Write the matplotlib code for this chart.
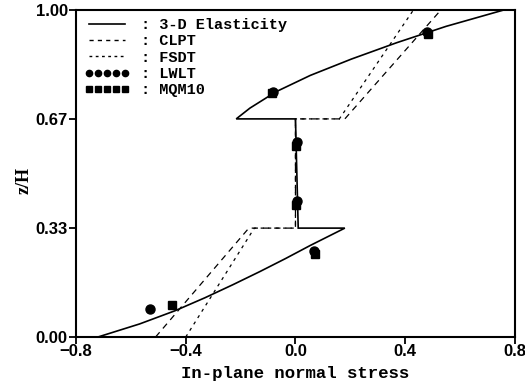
import matplotlib
matplotlib.use("Agg")
import matplotlib.pyplot as plt
from matplotlib.lines import Line2D

# ---- data ----
elas_x = [-0.72, -0.568, -0.44, -0.33, -0.228, -0.13, -0.036, 0.054, 0.18,
          0.01, 0.0, -0.216, -0.166, -0.071, 0.054, 0.204, 0.369, 0.549, 0.759]
elas_z = [0.0, 0.04, 0.08, 0.12, 0.16, 0.20, 0.24, 0.28, 0.333,
          0.333, 0.667, 0.667, 0.70, 0.75, 0.80, 0.85, 0.90, 0.95, 1.0]

clpt_x = [-0.51, -0.17, 0.0, 0.0, 0.18, 0.53]
clpt_z = [0.0, 0.333, 0.333, 0.667, 0.667, 1.0]

fsdt_x = [-0.40, -0.15, 0.0, 0.0, 0.16, 0.43]
fsdt_z = [0.0, 0.333, 0.333, 0.667, 0.667, 1.0]

lwlt_x = [-0.53, 0.068, 0.005, 0.005, -0.082, 0.478]
lwlt_z = [0.085, 0.262, 0.415, 0.595, 0.750, 0.933]

mqm_x = [-0.45, 0.072, 0.002, 0.002, -0.086, 0.482]
mqm_z = [0.098, 0.255, 0.405, 0.585, 0.745, 0.928]

series_labels = [": 3-D Elasticity", ": CLPT", ": FSDT", ": LWLT", ": MQM10"]
xticks = [-0.8, -0.4, 0.0, 0.4, 0.8]
xticklabels = ["\u22120.8", "\u22120.4", "0.0", "0.4", "0.8"]
yticks = [0.0, 0.333, 0.667, 1.0]
yticklabels = ["0.00", "0.33", "0.67", "1.00"]
xlabel = "In-plane normal stress"
ylabel = "z/H"

fig = plt.figure(figsize=(5.25, 3.82), dpi=100)
ax = fig.add_axes([0.1448, 0.1178, 0.836, 0.856])

ax.plot(elas_x, elas_z, color="black", lw=1.2, solid_joinstyle="miter")
ax.plot(clpt_x, clpt_z, color="black", lw=0.9, dashes=(5, 4))
ax.plot(fsdt_x, fsdt_z, color="black", lw=0.9, dashes=(2.5, 3.5))
ax.plot(lwlt_x, lwlt_z, ls="none", marker="o", ms=6.5, color="black")
ax.plot(mqm_x, mqm_z, ls="none", marker="s", ms=5.5, color="black")

ax.set_xlim(-0.8, 0.8)
ax.set_ylim(0.0, 1.0)
ax.set_xticks(xticks)
ax.set_xticklabels(xticklabels, family="Liberation Sans", fontweight="bold", fontsize=12)
ax.set_yticks(yticks)
ax.set_yticklabels(yticklabels, family="Liberation Sans", fontweight="bold", fontsize=12)
ax.tick_params(direction="out", length=5, width=1.3, pad=1)
ax.tick_params(axis="x", pad=0)
for s in ax.spines.values():
    s.set_linewidth(1.5)

ax.set_xlabel(xlabel, family="Liberation Mono", fontweight="bold", fontsize=12.5)
ax.xaxis.set_label_coords(0.5, -0.088)
ax.set_ylabel(ylabel, family="Liberation Serif", fontweight="bold", fontsize=13)
ax.yaxis.set_label_coords(-0.10, 0.48)

handles = [
    Line2D([], [], color="black", lw=1.2),
    Line2D([], [], color="black", lw=1.0, dashes=(3, 3)),
    Line2D([], [], color="black", lw=1.0, dashes=(2, 2.5)),
    Line2D([], [], ls="none", marker="o", ms=4.5, color="black"),
    Line2D([], [], ls="none", marker="s", ms=4, color="black"),
]
leg = ax.legend(handles, series_labels, loc="upper left", bbox_to_anchor=(0.02, 0.975),
                frameon=False, numpoints=5, handlelength=2.9, handletextpad=0.8,
                labelspacing=0.15, borderpad=0, borderaxespad=0,
                prop={"family": "Liberation Mono", "weight": "bold", "size": 11})

fig.savefig("out.png", dpi=100)
